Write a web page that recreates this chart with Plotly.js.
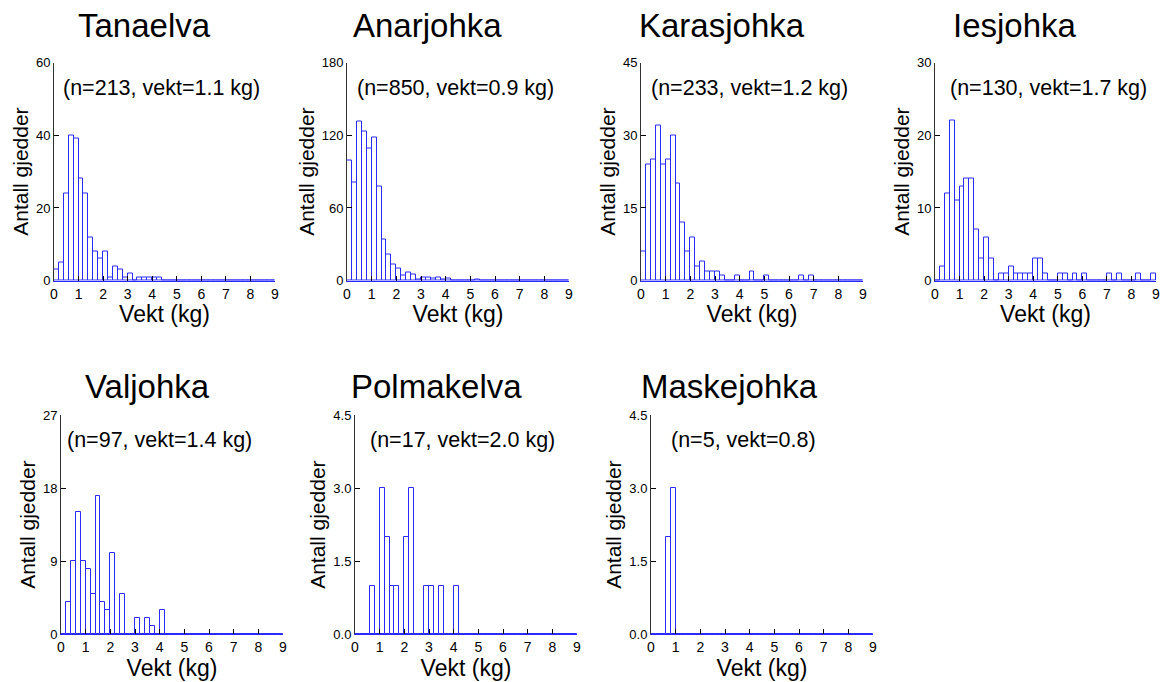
<!DOCTYPE html>
<html>
<head>
<meta charset="utf-8">
<script src="https://cdn.plot.ly/plotly-3.0.1.min.js"></script>
<style>html,body{margin:0;padding:0;background:#fff;}#chart{width:1161px;height:682px;}</style>
</head>
<body>
<div id="chart"></div>
<script>
// ---- DATA ----
const binCenters = [0.1,0.3,0.5,0.7,0.9,1.1,1.3,1.5,1.7,1.9,2.1,2.3,2.5,2.7,2.9,3.1,3.3,3.5,3.7,3.9,4.1,4.3,4.5,4.7,4.9,5.1,5.3,5.5,5.7,5.9,6.1,6.3,6.5,6.7,6.9,7.1,7.3,7.5,7.7,7.9,8.1,8.3,8.5,8.7,8.9];
const rivers = ["Tanaelva","Anarjohka","Karasjohka","Iesjohka","Valjohka","Polmakelva","Maskejohka"];
const infoText = ["(n=213, vekt=1.1 kg)","(n=850, vekt=0.9 kg)","(n=233, vekt=1.2 kg)","(n=130, vekt=1.7 kg)","(n=97, vekt=1.4 kg)","(n=17, vekt=2.0 kg)","(n=5, vekt=0.8)"];
const yMax = [60,180,45,30,27,4.5,4.5];
const xTicks = [0,1,2,3,4,5,6,7,8,9];

const tanaelva   = [3,5,24,40,39,28,24,12,8,6, 8,1,4,3,1,2,0,1,1,1, 1,1,0,0,0,0,0,0,0,0, 0,0,0,0,0,0,0,0,0,0, 0,0,0,0,0];
const anarjohka  = [99,81,131,123,109,118,78,34,22,13, 10,4,7,5,1,3,3,2,3,1, 2,0,0,0,0,0,1,0,0,0, 0,0,0,0,0,0,0,0,0,0, 0,0,0,0,0];
const karasjohka = [6,24,25,32,24,25,30,20,12,6, 9,3,4,2,2,2,1,0,0,1, 0,0,2,0,0,1,0,0,0,0, 0,0,1,0,1,0,0,0,0,0, 0,0,0,0,0];
const iesjohka   = [0,2,12,22,11,13,14,14,7,3, 6,3,0,1,1,2,1,1,1,1, 3,3,1,0,0,1,1,0,1,0, 1,0,0,0,0,1,0,1,0,0, 0,1,0,0,1];
const valjohka   = [0,4,9,15,9,8,5,17,4,3, 10,0,5,0,0,2,0,2,1,0, 3,0,0,0,0,0,0,0,0,0, 0,0,0,0,0,0,0,0,0,0, 0,0,0,0,0];
const polmakelva = [0,0,0,1,0,3,2,1,1,0, 2,3,0,0,1,1,0,1,0,0, 1,0,0,0,0,0,0,0,0,0, 0,0,0,0,0,0,0,0,0,0, 0,0,0,0,0];
const maskejohka = [0,0,0,2,3,0,0,0,0,0, 0,0,0,0,0,0,0,0,0,0, 0,0,0,0,0,0,0,0,0,0, 0,0,0,0,0,0,0,0,0,0, 0,0,0,0,0];
const counts = [tanaelva, anarjohka, karasjohka, iesjohka, valjohka, polmakelva, maskejohka];

// ---- LAYOUT (pixel geometry of each panel) ----
const W = 1161, H = 682;
const panels = [
  {l:54,  r:275,  t:62.5, b:280.7, titleX:144,  titleY:26,  infoX:0.30},
  {l:347, r:569,  t:62.5, b:280.7, titleX:427,  titleY:26,  infoX:0.34},
  {l:641, r:863,  t:62.5, b:280.7, titleX:722,  titleY:26,  infoX:0.34},
  {l:935, r:1156, t:62.5, b:280.7, titleX:1015, titleY:26,  infoX:0.52},
  {l:61,  r:283,  t:415,  b:634.3, titleX:147,  titleY:386, infoX:0.18},
  {l:355, r:577,  t:415,  b:634.3, titleX:436,  titleY:386, infoX:0.52},
  {l:651, r:873,  t:415,  b:634.3, titleX:729,  titleY:386, infoX:0.72}
];
const FONT = 'Liberation Sans, Arial, sans-serif';
const barEdge = '#2a2aff';

const traces = [];
const layout = {
  width: W, height: H,
  margin: {l:0, r:0, t:0, b:0},
  paper_bgcolor: '#fff', plot_bgcolor: '#fff',
  showlegend: false,
  bargap: 0,
  font: {family: FONT, color: '#000'},
  annotations: []
};

rivers.forEach((name, i) => {
  const k = i === 0 ? '' : String(i + 1);
  const p = panels[i];
  traces.push({
    type: 'bar', name: name,
    x: binCenters, y: counts[i], width: 0.2,
    xaxis: 'x' + k, yaxis: 'y' + k,
    marker: {color: '#ffffff', line: {color: barEdge, width: 1}},
    hoverinfo: 'x+y'
  });
  const ym = yMax[i];
  layout['xaxis' + k] = {
    domain: [p.l / W, p.r / W], anchor: 'y' + k,
    range: [0, 9], tickvals: xTicks,
    ticks: 'inside', ticklen: 5, tickcolor: '#000', tickwidth: 1,
    showline: true, linecolor: barEdge, linewidth: 1,
    showgrid: false, zeroline: false, fixedrange: true,
    tickfont: {size: 14, family: FONT, color: '#000'},
    title: {text: 'Vekt (kg)', font: {size: 23, family: FONT, color: '#000'}, standoff: 4},
    automargin: false
  };
  layout['yaxis' + k] = {
    domain: [1 - p.b / H, 1 - p.t / H], anchor: 'x' + k,
    range: [0, ym], tick0: 0, dtick: ym / 3,
    tickformat: ym < 10 ? '.1f' : 'd',
    ticks: 'inside', ticklen: 5, tickcolor: '#000', tickwidth: 1,
    showline: true, linecolor: '#333', linewidth: 1,
    showgrid: false, zeroline: false, fixedrange: true,
    tickfont: {size: 13, family: FONT, color: '#000'},
    title: {text: 'Antall gjedder', font: {size: 21, family: FONT, color: '#000'}, standoff: 1},
    automargin: false
  };
  layout.annotations.push({
    text: name, xref: 'paper', yref: 'paper',
    x: p.titleX / W, y: 1 - p.titleY / H, xanchor: 'center', yanchor: 'middle',
    showarrow: false, font: {size: 33, family: FONT, color: '#000'}
  });
  layout.annotations.push({
    text: infoText[i], xref: 'x' + k, yref: 'paper',
    x: p.infoX, y: 1 - (p.t + 25) / H, xanchor: 'left', yanchor: 'middle',
    showarrow: false, font: {size: 21.5, family: FONT, color: '#000'}
  });
});

Plotly.newPlot('chart', traces, layout, {displayModeBar: false, responsive: false});
</script>
</body>
</html>
